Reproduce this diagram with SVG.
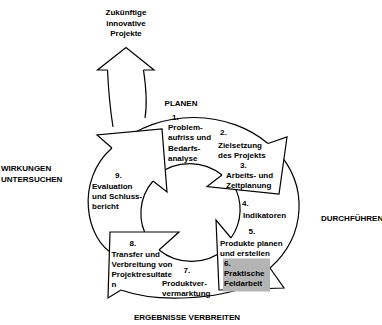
<svg xmlns="http://www.w3.org/2000/svg" width="382" height="325" viewBox="0 0 382 325">
<style>
.ln{fill:none;stroke:#000;stroke-width:1.2;stroke-linejoin:miter}
.hd{fill:#fff;stroke:#000;stroke-width:1.2;stroke-linejoin:miter}
text{font-family:"Liberation Sans",Arial,sans-serif;font-size:8px;font-weight:bold;fill:#000}
.c{text-anchor:middle}
</style>
<rect width="382" height="325" fill="#fff"/>
<g id="connectors">
<g id="future-arrow">
<path class="ln" d="M107.5,70 L97.5,70 L126,47.5 L154,70 L143.5,70"/>
<path class="ln" d="M107.5,70 Q109,102 113,127"/>
<path class="ln" d="M143.5,70 Q148,100 145,118"/>
</g>
<g id="arcs">
<path class="ln" d="M120,142.6 A106,90 0 0,1 268,143.5"/>
<path class="ln" d="M157,175 A51,50 0 0,1 222,175"/>
<path class="ln" d="M276,150 A106,90 0 0,1 270,268"/>
<path class="ln" d="M233,184 A51,50 0 0,1 231,238"/>
<path class="ln" d="M248,286 C220,298 160,304 121,290"/>
<path class="ln" d="M225,249 A51,50 0 0,1 159,250"/>
<path class="ln" d="M115,255 C85,240 75,180 112,148"/>
<path class="ln" d="M148.7,240 A51,50 0 0,1 153,181"/>
</g>
</g>
<g id="planen">
<path class="hd" d="M268,143.5 L287,137 L279,194 L207,186.5 L222,175"/>
<text x="181" y="106" class="c">PLANEN</text>
<text x="172" y="120">1.</text>
<text x="168" y="129.5">Problem-</text>
<text x="168" y="140">aufriss und</text>
<text x="168" y="150.5">Bedarfs-</text>
<text x="168" y="161">analyse</text>
<text x="220" y="134.7">2.</text>
<text x="218" y="147.5">Zielsetzung</text>
<text x="218" y="157.5">des Projekts</text>
<text x="240" y="168">3.</text>
<text x="226" y="177.5">Arbeits- und</text>
<text x="226" y="187.5">Zeitplanung</text>
</g>
<g id="durchfuehren">
<path class="hd" d="M270,268 L284,288 L219,290 L216,220 L231,238"/>
<rect x="223" y="258.5" width="47" height="33" fill="#b4b4b4"/>
<text x="321" y="221">DURCHFÜHREN</text>
<text x="242" y="206">4.</text>
<text x="243" y="217.5">Indikatoren</text>
<text x="248.5" y="234">5.</text>
<text x="220" y="246.3">Produkte planen</text>
<text x="220" y="256.3">und erstellen</text>
<text x="224" y="265.5">6.</text>
<text x="224" y="275.5">Praktische</text>
<text x="224" y="285.5">Feldarbeit</text>
</g>
<g id="verbreiten">
<path class="hd" d="M121,290 L108,298 L110,232 L179,232 L159,250"/>
<text x="187" y="320" class="c">ERGEBNISSE VERBREITEN</text>
<text x="183.5" y="273">7.</text>
<text x="162" y="285.5">Produktver-</text>
<text x="162" y="296">vermarktung</text>
<text x="129.5" y="245.5">8.</text>
<text x="111.5" y="256.5">Transfer und</text>
<text x="111.5" y="266.5">Verbreitung von</text>
<text x="111.5" y="276.5">Projektresultate</text>
<text x="111.5" y="286.5">n</text>
</g>
<g id="wirkungen">
<path class="hd" d="M112,148 L97,135 L162,129 L167,192 L153,181"/>
<text x="1" y="171">WIRKUNGEN</text>
<text x="1" y="182">UNTERSUCHEN</text>
<text x="115" y="178">9.</text>
<text x="92" y="188.5">Evaluation</text>
<text x="92" y="198.5">und Schluss-</text>
<text x="92" y="208.5">bericht</text>
</g>
<g id="zukunft">
<text x="126" y="15" class="c">Zukünftige</text>
<text x="126" y="25.5" class="c">innovative</text>
<text x="126" y="36" class="c">Projekte</text>
</g>
</svg>
